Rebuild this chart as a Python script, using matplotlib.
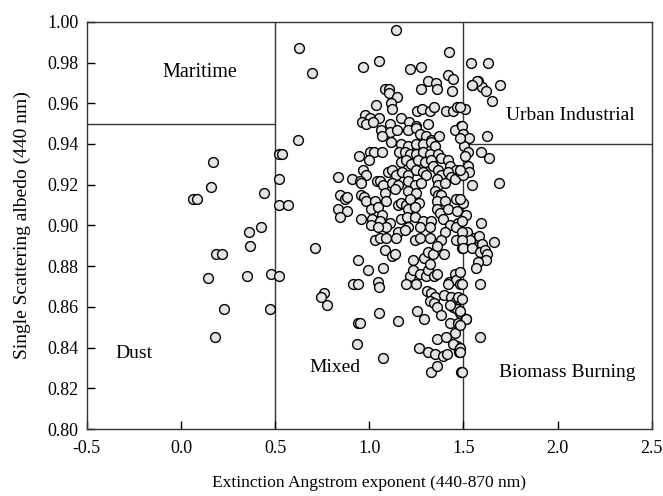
import matplotlib
matplotlib.use("Agg")
import matplotlib.pyplot as plt
import numpy as np

plt.rcParams['font.family'] = ['Liberation Serif', 'DejaVu Serif']

# Angstrom exponent (440-870 nm) and single scattering albedo (440 nm)
# dust / low-exponent points
ae_dust = [0.065, 0.083, 0.171, 0.157, 0.440, 0.521, 0.518, 0.518, 0.426, 0.359,
           0.369, 0.188, 0.218, 0.144, 0.353, 0.479, 0.520, 0.226, 0.473, 0.180,
           0.569, 0.539, 0.622]
ssa_dust = [0.913, 0.913, 0.931, 0.919, 0.916, 0.935, 0.923, 0.910, 0.899, 0.897,
            0.890, 0.886, 0.886, 0.874, 0.875, 0.876, 0.875, 0.859, 0.859, 0.845,
            0.910, 0.935, 0.942]

# mixed, upper part
ae_upper = [0.627, 0.695, 1.141, 0.964, 1.052, 1.215, 1.274, 1.422, 1.419, 1.442,
            1.313, 1.353, 1.362, 1.274, 1.440, 1.083, 1.105, 1.105, 1.145, 1.114,
            1.035, 1.118, 1.254, 1.282, 1.321, 1.344, 1.407, 1.445, 1.466, 0.978,
            1.004, 0.960, 1.052, 0.982, 1.021, 1.109, 1.171, 1.212, 1.250, 1.313,
            1.489]
ssa_upper = [0.987, 0.975, 0.996, 0.978, 0.981, 0.977, 0.978, 0.985, 0.974, 0.972,
             0.971, 0.970, 0.967, 0.967, 0.966, 0.967, 0.967, 0.965, 0.963, 0.960,
             0.959, 0.957, 0.956, 0.957, 0.956, 0.958, 0.956, 0.956, 0.958, 0.954,
             0.953, 0.951, 0.953, 0.950, 0.951, 0.950, 0.953, 0.951, 0.949, 0.950,
             0.949]

# mixed, central cluster
ae_mid = [1.064, 1.109, 1.148, 1.206, 1.250, 1.268, 1.300, 1.330, 1.369, 1.457,
          1.498, 1.114, 1.171, 1.206, 1.250, 1.286, 1.330, 1.348, 1.070,
          0.946, 1.003, 1.024, 1.070, 1.157, 1.188, 1.215, 1.250, 1.286, 1.321,
          1.365, 1.383, 0.999, 1.171, 1.197, 1.224, 1.259, 1.295, 1.330, 1.339,
          1.419, 1.431, 1.463, 0.910, 0.967, 0.985, 1.041, 1.100, 1.123, 1.144,
          1.176, 1.206, 1.250, 1.286, 1.300, 1.365, 1.383, 1.419, 1.436, 1.454,
          1.480, 0.949, 0.958, 1.056, 1.073, 1.118, 1.153, 1.206, 1.242, 1.277,
          1.357, 1.365, 1.401, 0.958, 0.971, 1.082, 1.135, 1.206, 1.250, 1.348,
          1.365, 1.383, 0.985, 1.029, 1.091, 1.153, 1.171, 1.197, 1.215, 1.265,
          1.360, 1.401, 1.463, 1.498, 1.011, 1.047, 1.070, 1.206, 1.242, 1.357,
          1.374, 1.419, 1.466, 0.958, 1.017, 1.056, 1.112, 1.171, 1.201, 1.242,
          1.286, 1.330, 1.392, 1.427, 1.472, 1.011, 1.091, 1.206, 1.321, 1.047,
          1.153, 1.188, 1.268, 1.401, 1.463,
          0.836, 0.844, 0.870, 0.884, 0.835, 0.883, 0.844]
ssa_mid = [0.947, 0.946, 0.947, 0.947, 0.948, 0.945, 0.944, 0.942, 0.944, 0.947,
           0.945, 0.941, 0.940, 0.939, 0.940, 0.940, 0.941, 0.939, 0.944,
           0.934, 0.936, 0.936, 0.936, 0.936, 0.936, 0.935, 0.935, 0.936, 0.935,
           0.935, 0.933, 0.932, 0.931, 0.932, 0.930, 0.932, 0.931, 0.932, 0.929,
           0.932, 0.929, 0.927, 0.923, 0.927, 0.925, 0.922, 0.926, 0.927, 0.925,
           0.926, 0.925, 0.927, 0.926, 0.925, 0.927, 0.925, 0.926, 0.924, 0.923,
           0.926, 0.922, 0.921, 0.922, 0.920, 0.921, 0.920, 0.922, 0.920, 0.921,
           0.923, 0.920, 0.921, 0.915, 0.914, 0.916, 0.918, 0.917, 0.916, 0.917,
           0.915, 0.915, 0.912, 0.912, 0.912, 0.910, 0.911, 0.910, 0.913, 0.911,
           0.912, 0.912, 0.913, 0.911, 0.908, 0.909, 0.905, 0.908, 0.909, 0.908,
           0.906, 0.908, 0.907, 0.903, 0.903, 0.902, 0.901, 0.903, 0.904, 0.904,
           0.902, 0.902, 0.903, 0.900, 0.901, 0.900, 0.899, 0.899, 0.899, 0.899,
           0.897, 0.898, 0.899, 0.897, 0.899,
           0.924, 0.915, 0.913, 0.914, 0.908, 0.907, 0.904]

# mixed, lower part
ae_low = [1.029, 1.056, 1.091, 1.141, 1.242, 1.268, 1.321, 1.383, 1.463, 1.502,
          1.082, 1.123, 1.135, 1.233, 1.291, 1.312, 1.339, 1.360, 1.396, 1.495,
          0.939, 0.994, 1.074, 1.215, 1.233, 1.268, 1.300, 1.312, 1.321, 1.342,
          1.357, 1.424, 1.454, 1.463, 1.480, 0.914, 0.941, 1.047, 1.051, 1.194,
          1.247, 1.419, 0.711, 0.758, 0.746, 0.776, 1.307, 1.330, 1.348, 1.321,
          1.342, 1.357, 1.396, 1.436, 1.459, 1.472, 1.445, 1.467, 1.431, 1.480,
          1.512, 1.383, 1.256, 1.290, 0.941, 0.953, 0.936, 1.054, 1.074, 1.150,
          1.429, 1.470, 1.454, 1.477, 1.466, 1.263, 1.311, 1.348, 1.392, 1.413,
          1.359, 1.410, 1.442, 1.327, 1.361, 1.489]
ssa_low = [0.893, 0.894, 0.894, 0.894, 0.893, 0.894, 0.894, 0.893, 0.893, 0.892,
           0.888, 0.885, 0.886, 0.883, 0.884, 0.887, 0.886, 0.890, 0.886, 0.889,
           0.883, 0.878, 0.879, 0.875, 0.878, 0.876, 0.875, 0.878, 0.881, 0.875,
           0.876, 0.872, 0.876, 0.873, 0.871, 0.871, 0.871, 0.872, 0.870, 0.871,
           0.871, 0.871, 0.889, 0.867, 0.865, 0.861, 0.868, 0.867, 0.865, 0.863,
           0.862, 0.860, 0.866, 0.865, 0.863, 0.865, 0.860, 0.859, 0.861, 0.857,
           0.854, 0.856, 0.858, 0.854, 0.852, 0.852, 0.842, 0.857, 0.835, 0.853,
           0.852, 0.852, 0.847, 0.838, 0.841, 0.840, 0.838, 0.837, 0.836, 0.837,
           0.844, 0.845, 0.842, 0.828, 0.831, 0.828]

# urban / biomass side (exponent > 1.5)
ae_fine = [1.539, 1.633, 1.578, 1.546, 1.596, 1.619, 1.696, 1.654, 1.507, 1.481,
           1.495, 1.498, 1.530, 1.502, 1.481, 1.626, 1.525, 1.507, 1.592, 1.635,
           1.525, 1.530, 1.498, 1.481, 1.546, 1.690, 1.481, 1.513, 1.490, 1.592,
           1.520, 1.490, 1.555, 1.583, 1.534, 1.490, 1.601, 1.663, 1.498, 1.543,
           1.587, 1.614, 1.623, 1.619, 1.578, 1.569, 1.587, 1.490, 1.481, 1.490,
           1.481, 1.513, 1.481, 1.587, 1.481, 1.484, 1.495, 1.573, 1.543]
ssa_fine = [0.980, 0.980, 0.971, 0.969, 0.968, 0.966, 0.969, 0.961, 0.957, 0.958,
            0.949, 0.945, 0.943, 0.939, 0.943, 0.944, 0.936, 0.934, 0.936, 0.933,
            0.929, 0.926, 0.925, 0.927, 0.920, 0.921, 0.913, 0.905, 0.902, 0.901,
            0.897, 0.897, 0.894, 0.895, 0.893, 0.893, 0.891, 0.892, 0.889, 0.889,
            0.887, 0.888, 0.886, 0.883, 0.882, 0.879, 0.871, 0.871, 0.877, 0.864,
            0.858, 0.854, 0.851, 0.845, 0.840, 0.838, 0.828, 0.971, 0.969]

ae = ae_dust + ae_upper + ae_mid + ae_low + ae_fine
ssa = ssa_dust + ssa_upper + ssa_mid + ssa_low + ssa_fine

fig, ax = plt.subplots(figsize=(6.63, 4.96), dpi=100)
fig.subplots_adjust(left=0.131, right=0.983, top=0.956, bottom=0.135)

ax.scatter(ae, ssa, s=50, facecolor='#e4e4e4', edgecolor='black', linewidth=1.0, zorder=3)

# class boundaries
ax.axvline(0.5, color='#333333', lw=1.0, zorder=1)
ax.axvline(1.5, color='#333333', lw=1.0, zorder=1)
ax.plot([-0.5, 0.5], [0.95, 0.95], color='#333333', lw=1.0, zorder=1)
ax.plot([1.5, 2.5], [0.94, 0.94], color='#333333', lw=1.0, zorder=1)

ax.text(0.10, 0.975, 'Maritime', fontsize=14.5, ha='center', va='center')
ax.text(-0.35, 0.837, 'Dust', fontsize=14, ha='left', va='center')
ax.text(0.82, 0.830, 'Mixed', fontsize=14, ha='center', va='center')
ax.text(2.07, 0.954, 'Urban Industrial', fontsize=14, ha='center', va='center')
ax.text(2.05, 0.828, 'Biomass Burning', fontsize=14, ha='center', va='center')

ax.set_xlim(-0.5, 2.5)
ax.set_ylim(0.80, 1.00)
ax.set_xticks(np.arange(-0.5, 2.51, 0.5))
ax.set_yticks(np.arange(0.80, 1.001, 0.02))
ax.xaxis.set_major_formatter(matplotlib.ticker.FormatStrFormatter('%.1f'))
ax.yaxis.set_major_formatter(matplotlib.ticker.FormatStrFormatter('%.2f'))
ax.tick_params(direction='in', length=6, width=1, labelsize=13, colors='black')
ax.tick_params(axis='x', pad=8)
ax.tick_params(axis='y', pad=6)
for sp in ax.spines.values():
    sp.set_color('#333333')
    sp.set_linewidth(1.0)

ax.set_xlabel('Extinction Angstrom exponent (440-870 nm)', fontsize=12.5, labelpad=13)
ax.set_ylabel('Single Scattering albedo (440 nm)', fontsize=14, labelpad=12)

fig.savefig('out.png', dpi=100)
